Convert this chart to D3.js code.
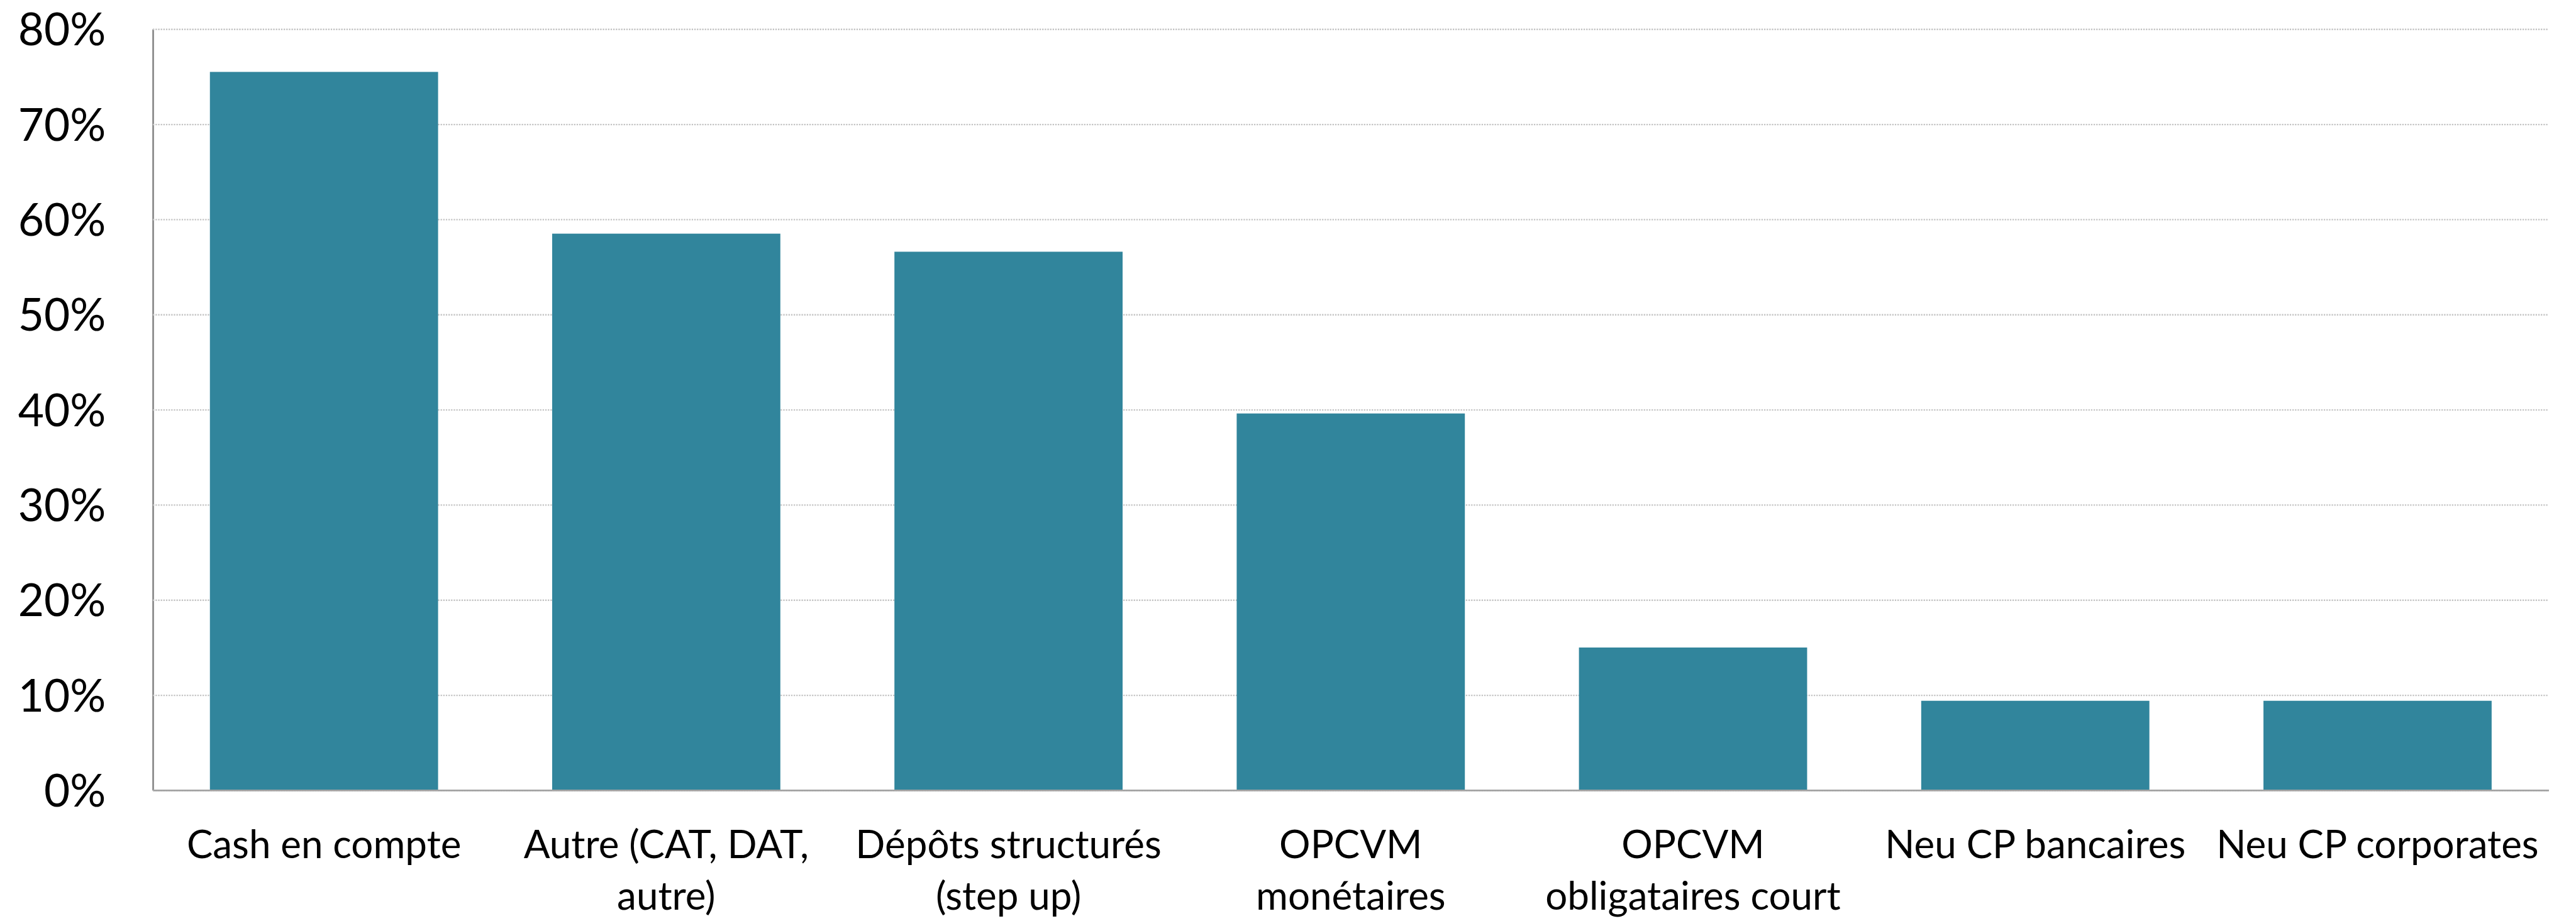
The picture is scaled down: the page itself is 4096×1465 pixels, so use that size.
<!DOCTYPE html>
<html>
<head>
<meta charset="utf-8">
<script src="https://cdn.jsdelivr.net/npm/d3@7"></script>
<style>
  html, body { margin: 0; padding: 0; background: #fff; }
  svg { display: block; }
</style>
</head>
<body>
<div class="container"></div>
<script>
// data
const categories = [
    "Cash en compte",
    "Autre (CAT, DAT,\nautre)",
    "Dépôts structurés\n(step up)",
    "OPCVM\nmonétaires",
    "OPCVM\nobligataires court",
    "Neu CP bancaires",
    "Neu CP corporates"
]
const values = [0.755, 0.585, 0.566, 0.396, 0.150, 0.094, 0.094]
const yTicks = [0, 0.1, 0.2, 0.3, 0.4, 0.5, 0.6, 0.7, 0.8]

// reference is 4432 x 1585, drawn into a 4096 x 1465 window (0.924)
const width = 4432
const height = 1585
margin = ({ top: 50, right: 47, bottom: 225, left: 263 })

const font = "Lato, 'Open Sans', sans-serif"
const barColor = "#31859c"

const data = categories.map((c, i) => ({ name: c, value: values[i] }))

const x = d3.scaleBand()
    .domain(data.map(d => d.name))
    .range([margin.left, width - margin.right])
    .paddingInner(1 / 3)
    .paddingOuter(1 / 6)

const y = d3.scaleLinear()
    .domain([0, 0.8])
    .range([height - margin.bottom, margin.top])

const svg = d3.select(".container").append("svg")
    .attr("width", 4096)
    .attr("height", 1465)
    .attr("viewBox", [0, 0, width, height])

// y axis + dotted gridlines
const gy = svg.append("g")
    .attr("transform", `translate(${margin.left},0)`)
    .call(d3.axisLeft(y)
        .tickValues(yTicks)
        .tickFormat(d3.format(".0%"))
        .tickSizeInner(-(width - margin.left - margin.right))
        .tickSizeOuter(0)
        .tickPadding(81))

gy.select(".domain")
    .attr("stroke", "#8c8c8c")
    .attr("stroke-width", 3)
gy.selectAll(".tick line")
    .attr("stroke", "#c4c4c4")
    .attr("stroke-width", 2.5)
    .attr("stroke-dasharray", "2.5,2")
gy.selectAll(".tick text")
    .attr("font-family", font)
    .attr("font-size", 77)
    .attr("fill", "#000")
    .attr("dy", "0.36em")

// bars
svg.append("g")
    .attr("fill", barColor)
    .selectAll("rect")
    .data(data)
    .join("rect")
    .attr("x", d => x(d.name))
    .attr("y", d => y(d.value))
    .attr("height", d => y(0) - y(d.value))
    .attr("width", x.bandwidth())

// x axis with wrapped labels
const gx = svg.append("g")
    .attr("transform", `translate(0,${height - margin.bottom})`)
    .call(d3.axisBottom(x).tickSize(0).tickSizeOuter(0).tickPadding(0))

gx.select(".domain")
    .attr("stroke", "#a3a3a3")
    .attr("stroke-width", 3)

gx.selectAll(".tick text")
    .attr("font-family", font)
    .attr("font-size", 67)
    .attr("fill", "#000")
    .attr("y", 0)
    .attr("dy", null)
    .each(function(d) {
        const t = d3.select(this)
        const lines = d.split("\n")
        t.text(null)
        lines.forEach((line, i) => {
            t.append("tspan")
                .attr("x", 0)
                .attr("y", 117 + i * 89)
                .text(line)
        })
    })
</script>
</body>
</html>
